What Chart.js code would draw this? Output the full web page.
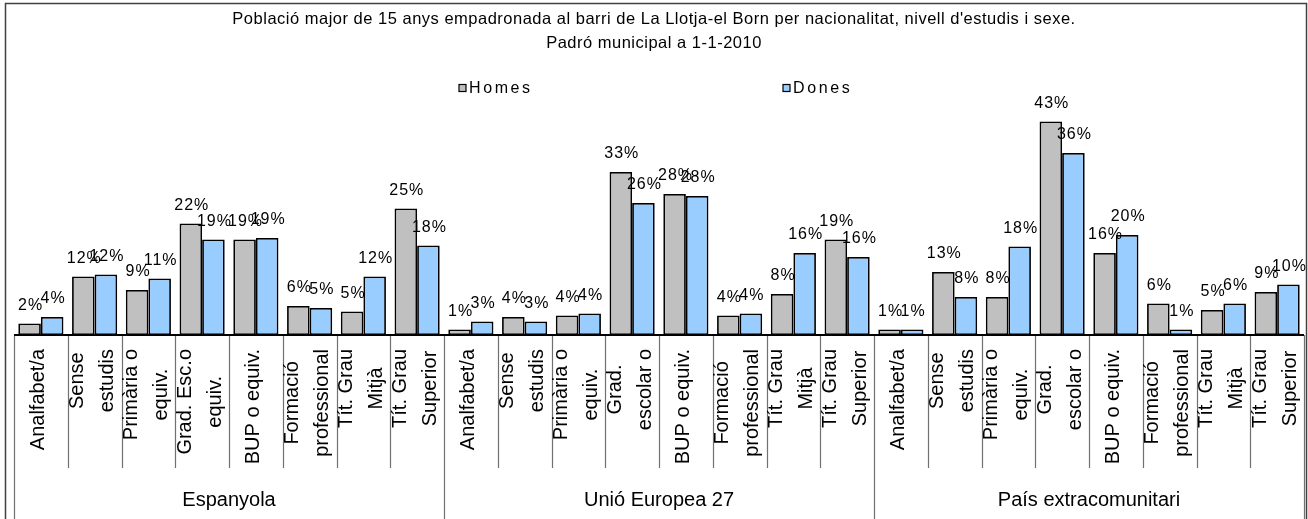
<!DOCTYPE html>
<html>
<head>
<meta charset="utf-8">
<script src="https://cdn.jsdelivr.net/npm/chart.js@4/dist/chart.umd.min.js"></script>
<style>
  html, body { margin: 0; padding: 0; background: #fff; }
  canvas { display: block; }
</style>
</head>
<body>
<canvas id="myChart" width="1308" height="519" style="width:1308px;height:519px"></canvas>
<script>
const titleLines = [
  "Població major de 15 anys empadronada al barri de La Llotja-el Born per nacionalitat, nivell d'estudis i sexe.",
  "Padró municipal a 1-1-2010"
];
const groups = ["Espanyola", "Unió Europea 27", "País extracomunitari"];

// nivell d'estudis, one list per nationality (label lines as shown on the axis)
const levelsEsp = [["Analfabet/a"], ["Sense", "estudis"], ["Primària o", "equiv."], ["Grad. Esc.o", "equiv."],
  ["BUP o equiv."], ["Formació", "professional"], ["Tít. Grau", "Mitjà"], ["Tít. Grau", "Superior"]];
const levelsUE = [["Analfabet/a"], ["Sense", "estudis"], ["Primària o", "equiv."], ["Grad.", "escolar o"],
  ["BUP o equiv."], ["Formació", "professional"], ["Tít. Grau", "Mitjà"], ["Tít. Grau", "Superior"]];
const levelsExt = [["Analfabet/a"], ["Sense", "estudis"], ["Primària o", "equiv."], ["Grad.", "escolar o"],
  ["BUP o equiv."], ["Formació", "professional"], ["Tít. Grau", "Mitjà"], ["Tít. Grau", "Superior"]];
const categories = [...levelsEsp, ...levelsUE, ...levelsExt];

// percentages
const homes = [2.3, 11.7, 9.0, 22.3, 19.1, 5.8, 4.7, 25.3,
               1.1, 3.6, 3.9, 32.6, 28.2, 3.9, 8.2, 19.1,
               1.1, 12.6, 7.6, 42.7, 16.4, 6.3, 5.0, 8.6];
const dones = [3.6, 12.1, 11.3, 19.1, 19.4, 5.4, 11.7, 17.9,
               2.7, 2.7, 4.3, 26.4, 27.8, 4.3, 16.4, 15.6,
               1.1, 7.6, 17.7, 36.4, 20.0, 1.1, 6.3, 10.1];

const FONT = '"Liberation Sans", Arial, sans-serif';

// percentage labels above each bar
const barLabels = {
  id: 'barLabels',
  afterDatasetsDraw(chart) {
    const ctx = chart.ctx;
    ctx.save();
    ctx.font = '16px ' + FONT;
    ctx.letterSpacing = '1px';
    ctx.fillStyle = '#000';
    ctx.textAlign = 'center';
    ctx.textBaseline = 'alphabetic';
    chart.data.datasets.forEach((ds, di) => {
      chart.getDatasetMeta(di).data.forEach((bar, i) => {
        ctx.fillText(Math.round(ds.data[i]) + '%', bar.x + 1, bar.y - 14);
      });
    });
    ctx.restore();
  }
};

// frame, title, legend and the two-level category axis
const decor = {
  id: 'decor',
  afterDraw(chart) {
    const ctx = chart.ctx;
    const x = chart.scales.x;
    const base = chart.chartArea.bottom;
    const n = categories.length;
    ctx.save();

    ctx.strokeStyle = '#404040';
    ctx.lineWidth = 1.5;
    ctx.strokeRect(5.5, 3.5, 1301, 540);

    ctx.fillStyle = '#000';
    ctx.textAlign = 'center';
    ctx.textBaseline = 'middle';
    ctx.font = '16.5px ' + FONT;
    ctx.letterSpacing = '0.5px';
    titleLines.forEach((t, i) => ctx.fillText(t, 654, 19 + i * 24));

    // legend
    ctx.font = '16px ' + FONT;
    ctx.letterSpacing = '2.6px';
    ctx.textAlign = 'left';
    const legendX = [459, 783];
    chart.data.datasets.forEach((ds, i) => {
      ctx.fillStyle = ds.backgroundColor;
      ctx.fillRect(legendX[i], 84.5, 7, 7);
      ctx.strokeStyle = '#000';
      ctx.lineWidth = 1.2;
      ctx.strokeRect(legendX[i], 84.5, 7, 7);
      ctx.fillStyle = '#000';
      ctx.fillText(ds.label, legendX[i] + 10, 89);
    });
    ctx.letterSpacing = '0px';

    // dividers under the axis
    const edge = i => i === 0 ? x.left : i === n ? x.right : (x.getPixelForValue(i - 1) + x.getPixelForValue(i)) / 2;
    ctx.strokeStyle = '#707070';
    ctx.lineWidth = 1.2;
    for (let i = 0; i <= n; i++) {
      const px = Math.round(edge(i)) + 0.5;
      ctx.beginPath();
      ctx.moveTo(px, base);
      ctx.lineTo(px, i % 8 === 0 ? 519 : 468);
      ctx.stroke();
    }

    // rotated category labels, longest line starts just under the axis
    ctx.fillStyle = '#000';
    ctx.font = '20px ' + FONT;
    ctx.textAlign = 'center';
    ctx.textBaseline = 'middle';
    categories.forEach((lines, i) => {
      const cx = x.getPixelForValue(i);
      const w = Math.max(...lines.map(t => ctx.measureText(t).width));
      const cy = 349 + w / 2;
      lines.forEach((t, j) => {
        ctx.save();
        ctx.translate(cx + (j - (lines.length - 1) / 2) * 30 - 2, cy);
        ctx.rotate(-Math.PI / 2);
        ctx.fillText(t, 0, 0);
        ctx.restore();
      });
    });

    // nationality labels
    groups.forEach((g, k) => {
      const gx = (edge(k * 8) + edge(k * 8 + 8)) / 2;
      ctx.fillText(g, gx, 500);
    });

    // base line
    ctx.strokeStyle = '#000';
    ctx.lineWidth = 2;
    ctx.beginPath();
    ctx.moveTo(x.left, base);
    ctx.lineTo(x.right, base);
    ctx.stroke();
    ctx.restore();
  }
};

new Chart(document.getElementById('myChart').getContext('2d'), {
  type: 'bar',
  data: {
    labels: categories.map(c => c.join(' ')),
    datasets: [{
      label: 'Homes',
      data: homes,
      backgroundColor: '#C0C0C0',
      borderColor: '#000',
      borderWidth: 1.8,
      borderSkipped: false,
      categoryPercentage: 0.84,
      barPercentage: 1.0
    }, {
      label: 'Dones',
      data: dones,
      backgroundColor: '#99CCFF',
      borderColor: '#000',
      borderWidth: 1.8,
      borderSkipped: false,
      categoryPercentage: 0.84,
      barPercentage: 1.0
    }]
  },
  options: {
    responsive: false,
    animation: false,
    devicePixelRatio: 1,
    layout: { padding: { left: 14, right: 4, top: 85, bottom: 184 } },
    scales: {
      x: { display: false },
      y: { display: false, min: 0, max: 50 }
    },
    plugins: {
      legend: { display: false },
      title: { display: false },
      tooltip: { enabled: false }
    }
  },
  plugins: [barLabels, decor]
});
</script>
</body>
</html>
